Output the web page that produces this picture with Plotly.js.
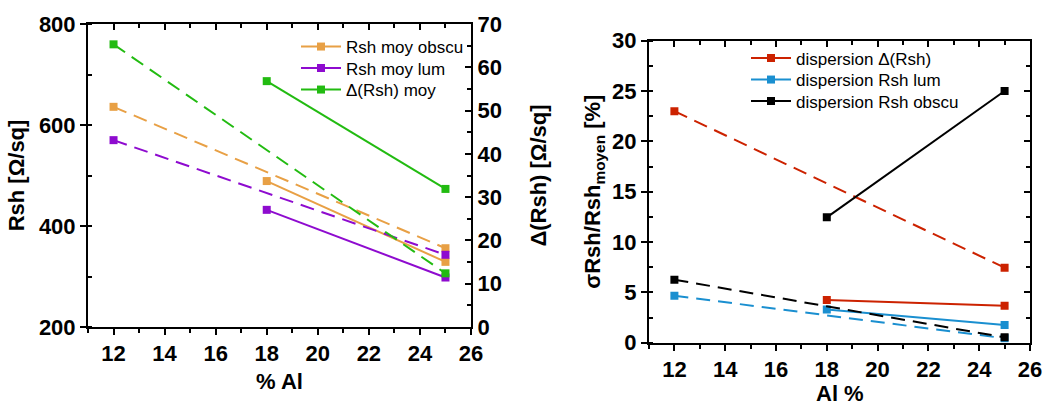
<!DOCTYPE html>
<html>
<head>
<meta charset="utf-8">
<script src="https://cdn.plot.ly/plotly-3.0.1.min.js"></script>
<style>html,body{margin:0;padding:0;background:#fff;}#chart{width:1062px;height:403px;}</style>
</head>
<body>
<div id="chart"></div>
<script>
// ---- data ----
const alDashed = [12, 25];
const alSolid = [18, 25];

// left chart (Rsh, left axis; Δ(Rsh), right axis)
const rshObscuDashed = [636, 356];
const rshObscuSolid = [489, 329];
const rshLumDashed = [570, 343];
const rshLumSolid = [432, 298];
const deltaRshDashed = [65.3, 12.4];
const deltaRshSolid = [56.8, 31.9];

// right chart (dispersion, %)
const dispDeltaDashed = [23.0, 7.45];
const dispDeltaSolid = [4.24, 3.68];
const dispLumDashed = [4.67, 0.44];
const dispLumSolid = [3.3, 1.76];
const dispObscuDashed = [6.26, 0.53];
const dispObscuSolid = [12.45, 25.0];

const legendNamesLeft = ['Rsh moy obscu', 'Rsh moy lum', '\u0394(Rsh) moy'];
const legendNamesRight = ['dispersion \u0394(Rsh)', 'dispersion Rsh lum', 'dispersion Rsh obscu'];

// ---- styles ----
const C = {
  orange: '#E8A045', purple: '#8E0BCF', green: '#22BB11',
  red: '#CC2200', blue: '#1A8FD0', black: '#000000'
};
const DASH = '14px,8px';
const FONT = 'Arial, "Liberation Sans", sans-serif';

function tr(x, y, color, dash, name, show, xa, ya, lg) {
  return {
    x: x, y: y, type: 'scatter', mode: 'lines+markers',
    name: name, showlegend: show, legend: lg,
    xaxis: xa, yaxis: ya,
    line: {color: color, width: 2, dash: dash},
    marker: {symbol: 'square', size: 8, color: color}
  };
}
function blank(xa, ya) {
  return {x: [], y: [], type: 'scatter', mode: 'markers', showlegend: false, xaxis: xa, yaxis: ya, hoverinfo: 'skip'};
}

const traces = [
  tr(alDashed, rshObscuDashed, C.orange, DASH, legendNamesLeft[0], false, 'x', 'y', 'legend'),
  tr(alSolid, rshObscuSolid, C.orange, 'solid', legendNamesLeft[0], true, 'x', 'y', 'legend'),
  tr(alDashed, rshLumDashed, C.purple, DASH, legendNamesLeft[1], false, 'x', 'y', 'legend2'),
  tr(alSolid, rshLumSolid, C.purple, 'solid', legendNamesLeft[1], true, 'x', 'y', 'legend2'),
  tr(alDashed, deltaRshDashed, C.green, DASH, legendNamesLeft[2], false, 'x', 'y2', 'legend3'),
  tr(alSolid, deltaRshSolid, C.green, 'solid', legendNamesLeft[2], true, 'x', 'y2', 'legend3'),

  tr(alDashed, dispDeltaDashed, C.red, DASH, legendNamesRight[0], false, 'x2', 'y3', 'legend4'),
  tr(alSolid, dispDeltaSolid, C.red, 'solid', legendNamesRight[0], true, 'x2', 'y3', 'legend4'),
  tr(alDashed, dispLumDashed, C.blue, DASH, legendNamesRight[1], false, 'x2', 'y3', 'legend5'),
  tr(alSolid, dispLumSolid, C.blue, 'solid', legendNamesRight[1], true, 'x2', 'y3', 'legend5'),
  tr(alDashed, dispObscuDashed, C.black, DASH, legendNamesRight[2], false, 'x2', 'y3', 'legend6'),
  tr(alSolid, dispObscuSolid, C.black, 'solid', legendNamesRight[2], true, 'x2', 'y3', 'legend6'),

  blank('x3', 'y'), blank('x4', 'y3'), blank('x2', 'y4')
];

const W = 1062, H = 403;
const tickFont = {family: FONT, size: 22, color: '#000', weight: 'bold'};
const titleFont = {family: FONT, size: 22, color: '#000', weight: 'bold'};

function axis(extra) {
  return Object.assign({
    showgrid: false, zeroline: false, showline: true,
    linecolor: '#000', linewidth: 2,
    ticks: 'outside', ticklen: 6, tickwidth: 2, tickcolor: '#000',
    tickfont: tickFont, fixedrange: true
  }, extra);
}
function minor(dtick, dir) {
  return {dtick: dtick, ticks: dir, ticklen: 4, tickwidth: 2, tickcolor: '#000'};
}
function legendAt(px, py) {
  return {
    x: px / W, y: 1 - py / H, xanchor: 'left', yanchor: 'middle',
    bgcolor: 'rgba(0,0,0,0)', borderwidth: 0, itemwidth: 40,
    font: {family: FONT, size: 17, color: '#000'},
    itemclick: false, itemdoubleclick: false
  };
}

const LX = [88 / W, 471 / W];
const LY = [1 - 327 / H, 1 - 24 / H];
const RX = [649 / W, 1030 / W];
const RY = [1 - 342.7 / H, 1 - 40.7 / H];

const layout = {
  width: W, height: H,
  margin: {l: 0, r: 0, t: 0, b: 0},
  paper_bgcolor: '#fff', plot_bgcolor: '#fff',
  font: {family: FONT, color: '#000'},
  xaxis: axis({
    domain: LX, anchor: 'y', range: [11, 26], dtick: 2, tick0: 0, mirror: true,
    minor: minor(1, 'outside'),
    title: {text: '% Al', font: titleFont, standoff: 8}
  }),
  xaxis3: axis({
    overlaying: 'x', side: 'top', anchor: 'y', range: [11, 26], dtick: 2, tick0: 0,
    showline: false, showticklabels: false, ticks: 'inside', ticklen: 6,
    minor: minor(1, 'inside')
  }),
  yaxis: axis({
    domain: LY, anchor: 'x', range: [200, 800], dtick: 200, tick0: 0,
    minor: minor(100, 'inside'),
    title: {text: 'Rsh [\u03A9/sq]', font: titleFont, standoff: 8}
  }),
  yaxis2: axis({
    overlaying: 'y', side: 'right', anchor: 'x', range: [0, 70], dtick: 10, tick0: 0,
    ticks: 'inside',
    minor: minor(5, 'inside'),
    title: {text: '\u0394(Rsh) [\u03A9/sq]', font: titleFont, standoff: 30}
  }),
  xaxis2: axis({
    domain: RX, anchor: 'y3', range: [11, 26], dtick: 2, tick0: 0, mirror: true,
    minor: minor(1, 'outside')
  }),
  xaxis4: axis({
    overlaying: 'x2', side: 'top', anchor: 'y3', range: [11, 26], dtick: 2, tick0: 0,
    showline: false, showticklabels: false, ticks: 'inside', ticklen: 6,
    minor: minor(1, 'inside')
  }),
  yaxis3: axis({
    domain: RY, anchor: 'x2', range: [0, 30], dtick: 5, tick0: 0, mirror: true,
    minor: minor(2.5, 'inside'),
    title: {text: '\u03C3Rsh/Rsh<sub>moyen</sub> [%]', font: titleFont, standoff: 5}
  }),
  yaxis4: axis({
    overlaying: 'y3', side: 'right', anchor: 'x2', range: [0, 30], dtick: 5, tick0: 0,
    showline: false, showticklabels: false, ticks: 'inside', ticklen: 6,
    minor: minor(2.5, 'inside')
  }),
  annotations: [{
    text: 'Al %', xref: 'paper', yref: 'paper',
    x: (RX[0] + RX[1]) / 2, y: 0, xanchor: 'center', yanchor: 'bottom', yshift: -5,
    showarrow: false, font: titleFont
  }],
  legend: legendAt(296, 47),
  legend2: legendAt(296, 68.5),
  legend3: legendAt(296, 90),
  legend4: legendAt(746, 58.5),
  legend5: legendAt(746, 80),
  legend6: legendAt(746, 101.5)
};

Plotly.newPlot('chart', traces, layout, {displayModeBar: false, staticPlot: true});
</script>
</body>
</html>
